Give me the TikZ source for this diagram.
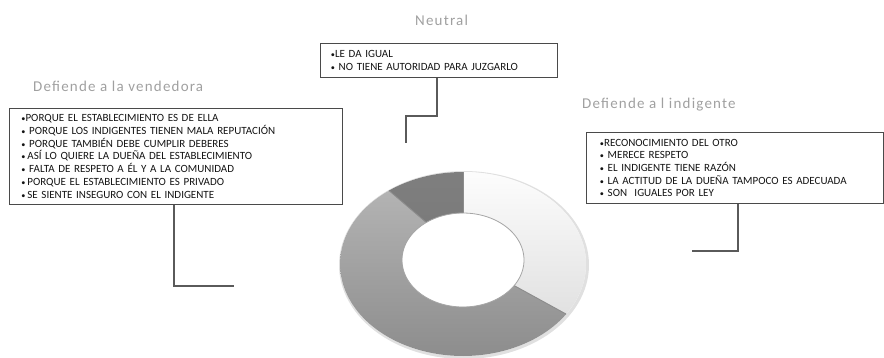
\documentclass[tikz,border=0pt]{standalone}
\usepackage{fontspec}
\setmainfont{Carlito}
\newfontfamily\labelfont[LetterSpace=8]{Carlito}
\usetikzlibrary{positioning}

\definecolor{boxline}{HTML}{4A4A4A}
\definecolor{connline}{HTML}{5A5A5A}
\definecolor{labelgray}{HTML}{A0A0A0}
\definecolor{ringedge}{HTML}{8C8C8C}

\newcommand{\bul}{{\scalebox{0.75}{•}}}

\tikzset{
  reasonbox/.style={draw=boxline, line width=0.9pt, fill=white,
    anchor=north west, align=left, inner xsep=0pt, inner ysep=0pt,
    font=\fontsize{11}{12.7}\selectfont, text=black!92},
  grouplabel/.style={anchor=base west, inner sep=0pt, text=labelgray,
    font=\labelfont\fontsize{15}{17}\selectfont},
  conn/.style={draw=connline, line width=1.1pt},
  % one sector of the ring, visual angles #1..#2 (degrees, counter-clockwise)
  ringpart/.style 2 args={insert path={
    plot[domain=#1:#2, samples=100] ({463+123*cos(\x)},{264-92*sin(\x)})
    -- plot[domain=#2:#1, samples=70] ({463+61*cos(\x)},{260-47*sin(\x)})
    -- cycle}},
}

\begin{document}
\begin{tikzpicture}[x=1pt, y=-1pt]
\useasboundingbox (0,0) rectangle (884,357);

% ---------- ring chart ----------
% soft halo round the ring
\fill[black!12] plot[domain=0:360, samples=120] ({464+125*cos(\x)},{265-94*sin(\x)});
\fill[white] plot[domain=0:360, samples=120] ({463+123*cos(\x)},{264-92*sin(\x)});

% Defiende al indigente
\begin{scope}
  \clip[ringpart={-33}{90}];
  \shade[shading angle=40, top color=white, bottom color=black!16]
    (330,160) rectangle (600,370);
\end{scope}
% Defiende a la vendedora
\begin{scope}
  \clip[ringpart={127}{327}];
  \shade[top color=black!27, bottom color=black!46]
    (330,160) rectangle (600,370);
\end{scope}
% Neutral
\begin{scope}
  \clip[ringpart={90}{127}];
  \shade[top color=black!50, bottom color=black!56]
    (330,160) rectangle (600,370);
\end{scope}

% sector borders and inner rim
\draw[ringedge, line width=0.9pt]
  ({463+61*cos(90)},{260-47*sin(90)}) -- ({463+123*cos(90)},{264-92*sin(90)});
\draw[ringedge, line width=0.9pt]
  ({463+61*cos(127)},{260-47*sin(127)}) -- ({463+123*cos(127)},{264-92*sin(127)});
\draw[ringedge, line width=0.9pt]
  ({463+61*cos(-33)},{260-47*sin(-33)}) -- ({463+123*cos(-33)},{264-92*sin(-33)});
\draw[black!35, line width=0.8pt]
  plot[domain=0:360, samples=120] ({463+61*cos(\x)},{260-47*sin(\x)});

% ---------- group titles ----------
\node[grouplabel] (tneu) at (415,25) {Neutral};
\node[grouplabel] (tven) at (33,91) {Defiende a la vendedora};
\node[grouplabel] (tind) at (582,108) {Defiende a l indigente};

% ---------- reason boxes ----------
\node[reasonbox, minimum width=237pt, minimum height=34pt,
      text width=230pt, inner xsep=0pt] (bneu) at (320,43)
  {\hspace*{7pt}\bul LE DA IGUAL\\
   \hspace*{7pt}\bul\ NO TIENE AUTORIDAD PARA JUZGARLO};

\node[reasonbox, minimum width=333pt, minimum height=96pt,
      text width=325pt] (bven) at (9,108)
  {\hspace*{8pt}\bul PORQUE EL ESTABLECIMIENTO ES DE ELLA\\
   \hspace*{8pt}\bul\ PORQUE LOS INDIGENTES TIENEN MALA REPUTACIÓN\\
   \hspace*{8pt}\bul\ PORQUE TAMBIÉN DEBE CUMPLIR DEBERES\\
   \hspace*{8pt}\bul\,ASÍ LO QUIERE LA DUEÑA DEL ESTABLECIMIENTO\\
   \hspace*{8pt}\bul\ FALTA DE RESPETO A ÉL Y A LA COMUNIDAD\\
   \hspace*{8pt}\bul\,PORQUE EL ESTABLECIMIENTO ES PRIVADO\\
   \hspace*{8pt}\bul\,SE SIENTE INSEGURO CON EL INDIGENTE};

\node[reasonbox, minimum width=297pt, minimum height=71pt,
      text width=290pt] (bind) at (586,132)
  {\hspace*{10pt}\bul RECONOCIMIENTO DEL OTRO\\
   \hspace*{10pt}\bul\ MERECE RESPETO\\
   \hspace*{10pt}\bul\ EL INDIGENTE TIENE RAZÓN\\
   \hspace*{10pt}\bul\ LA ACTITUD DE LA DUEÑA TAMPOCO ES ADECUADA\\
   \hspace*{10pt}\bul\ SON\ \ IGUALES POR LEY};

% ---------- connectors ----------
\coordinate (nbend) at (437,116);
\coordinate (nend)  at (406,143);
\draw[conn] (bneu.south -| nbend) -- (nbend) -| (nend);

\coordinate (vbend) at (174,286);
\coordinate (vend)  at (234,286);
\draw[conn] (bven.south -| vbend) -- (vbend) -- (vend);

\coordinate (ibend) at (738,251);
\coordinate (iend)  at (692,251);
\draw[conn] (bind.south -| ibend) -- (ibend) -- (iend);
\end{tikzpicture}
\end{document}
